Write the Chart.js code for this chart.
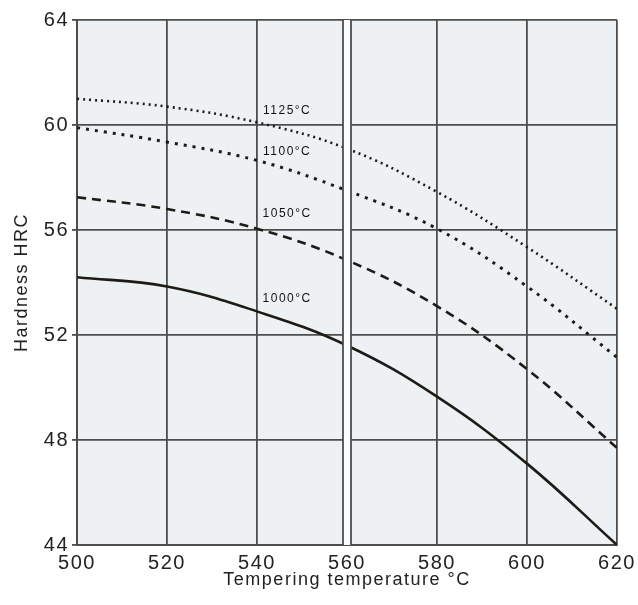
<!DOCTYPE html>
<html>
<head>
<meta charset="utf-8">
<script src="https://cdn.jsdelivr.net/npm/chart.js@4/dist/chart.umd.min.js"></script>
<style>
  html, body { margin: 0; padding: 0; background: #fff; }
  #wrap { width: 638px; height: 605px; }
</style>
</head>
<body>
<div id="wrap"><canvas id="myChart" width="638" height="605"></canvas></div>
<script>
// tempering temperature (°C) and hardness (HRC) for each hardening temperature
const temps = [500, 520, 540, 560, 580, 600, 620];
const hrc1125 = [61.0, 60.7, 60.1, 59.1, 57.45, 55.35, 53.0];
const hrc1100 = [59.9, 59.35, 58.65, 57.5, 56.05, 53.85, 51.15];
const hrc1050 = [57.25, 56.8, 56.05, 54.85, 53.1, 50.7, 47.7];
const hrc1000 = [54.2, 53.85, 52.9, 51.6, 49.65, 47.1, 44.0];

const curveNames = ['1125°C', '1100°C', '1050°C', '1000°C'];
// label anchor [x, y] in data units
const labelSpots = [[546.7, 60.56], [546.7, 58.99], [546.7, 56.62], [546.7, 53.37]];

const ink = '#1e1b16';
const sans = '"Liberation Sans", Arial, sans-serif';

function series(ys) {
    return temps.map((t, i) => ({ x: t, y: ys[i] }));
}

// slightly wider text spacing everywhere
const spacing = {
    id: 'spacing',
    beforeUpdate(chart) { chart.ctx.letterSpacing = '1.5px'; },
    beforeDraw(chart) { chart.ctx.letterSpacing = '1.5px'; }
};

// light fill behind the plot area
const plotBg = {
    id: 'plotBg',
    beforeDraw(chart) {
        const { ctx, chartArea: a } = chart;
        ctx.save();
        ctx.fillStyle = '#edf1f4';
        ctx.fillRect(a.left, a.top, a.right - a.left, a.bottom - a.top);
        ctx.restore();
    }
};

// white break at 560 and curve labels
const extras = {
    id: 'extras',
    afterDatasetsDraw(chart) {
        const { ctx, chartArea: a, scales } = chart;
        const x = scales.x.getPixelForValue(560);
        ctx.save();
        ctx.fillStyle = '#fbfcfd';
        ctx.fillRect(x - 4, a.top, 8, a.bottom - a.top);
        ctx.strokeStyle = '#4d4d4d';
        ctx.lineWidth = 1.8;
        [x - 4, x + 4].forEach(px => {
            ctx.beginPath();
            ctx.moveTo(px, a.top);
            ctx.lineTo(px, a.bottom);
            ctx.stroke();
        });

        ctx.fillStyle = '#111';
        ctx.font = '12px ' + sans;
        ctx.textAlign = 'center';
        ctx.textBaseline = 'middle';
        curveNames.forEach((name, i) => {
            const [lx, ly] = labelSpots[i];
            ctx.fillText(name, scales.x.getPixelForValue(lx), scales.y.getPixelForValue(ly));
        });
        ctx.restore();
    }
};

const ctx = document.getElementById('myChart').getContext('2d');

new Chart(ctx, {
    type: 'line',
    data: {
        datasets: [
            { label: curveNames[0], data: series(hrc1125), borderDash: [2, 4], borderWidth: 2.6 },
            { label: curveNames[1], data: series(hrc1100), borderDash: [3, 6], borderWidth: 3 },
            { label: curveNames[2], data: series(hrc1050), borderDash: [9, 6], borderWidth: 2.6 },
            { label: curveNames[3], data: series(hrc1000), borderWidth: 2.6 }
        ].map(d => Object.assign(d, {
            borderColor: ink,
            pointRadius: 0,
            fill: false,
            tension: 0.4
        }))
    },
    options: {
        responsive: false,
        animation: false,
        layout: { padding: { left: 0, right: 21, top: 20, bottom: 0 } },
        plugins: {
            legend: { display: false },
            tooltip: { enabled: false }
        },
        scales: {
            x: {
                type: 'linear',
                min: 500,
                max: 620,
                ticks: {
                    stepSize: 20,
                    color: '#222',
                    font: { family: sans, size: 20 },
                    padding: 6,
                    maxRotation: 0
                },
                grid: { color: '#4d4d4d', lineWidth: 1.8, drawTicks: false },
                border: { color: '#4d4d4d', width: 2 },
                title: {
                    display: true,
                    text: 'Tempering temperature °C',
                    color: '#222',
                    font: { family: sans, size: 18 },
                    padding: { top: 0, bottom: 14 }
                },
                afterFit(scale) {
                    scale.height = 60;
                    scale.paddingLeft = 0;
                    scale.paddingRight = 0;
                }
            },
            y: {
                min: 44,
                max: 64,
                ticks: {
                    stepSize: 4,
                    color: '#222',
                    font: { family: sans, size: 20 },
                    padding: 3
                },
                grid: { color: '#4d4d4d', lineWidth: 1.8, tickLength: 5 },
                border: { color: '#4d4d4d', width: 2 },
                title: {
                    display: true,
                    text: 'Hardness HRC',
                    color: '#222',
                    font: { family: sans, size: 18 },
                    padding: { top: 11, bottom: 0 }
                },
                afterFit(scale) { scale.width = 77; }
            }
        }
    },
    plugins: [spacing, plotBg, extras]
});
</script>
</body>
</html>
